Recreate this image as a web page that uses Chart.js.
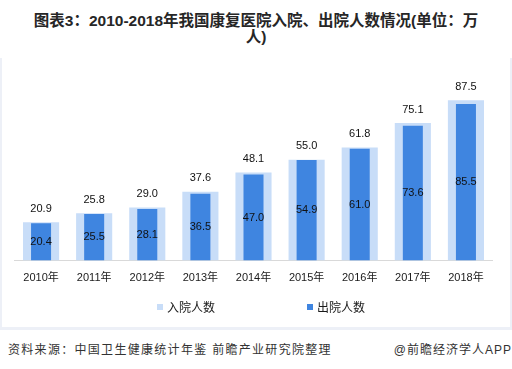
<!DOCTYPE html>
<html>
<head>
<meta charset="utf-8">
<script src="https://cdn.jsdelivr.net/npm/chart.js@4/dist/chart.umd.min.js"></script>
<style>
  body { margin: 0; width: 512px; height: 369px; background: #fff; position: relative; overflow: hidden;
         font-family: "Liberation Sans", "Noto Sans CJK SC", sans-serif; }
  #title { position: absolute; left: 0; top: 13px; width: 512px; text-align: center; font-weight: bold;
           font-size: 15.5px; line-height: 15.5px; color: #262626; }
  #frame { position: absolute; left: 0; top: 58px; width: 512px; height: 272px; box-sizing: border-box;
           border-left: 2px solid #edf0f7; border-right: 2px solid #edf0f7; border-bottom: 3px solid #edf0f7; }
  #wrap { position: absolute; left: 0; top: 58px; width: 512px; height: 269px; }
  #legend { position: absolute; left: 157px; top: 298px; display: flex; gap: 92px; font-size: 12px; color: #1a1a1a; }
  .item { display: flex; align-items: center; }
  .box { width: 6px; height: 6px; margin-right: 4px; }
  .foot { position: absolute; top: 340px; font-size: 12px; letter-spacing: 1.3px; color: #333; }
</style>
</head>
<body>
<div id="title">图表3：2010-2018年我国康复医院入院、出院人数情况(单位：万<br>人)</div>
<div id="frame"></div>
<div id="wrap"><canvas id="chart" width="512" height="269"></canvas></div>
<div id="legend"></div>
<div class="foot" style="left:8px;">资料来源：中国卫生健康统计年鉴 前瞻产业研究院整理</div>
<div class="foot" style="right:0;letter-spacing:1px;">@前瞻经济学人APP</div>
<script>
const years = ['2010年', '2011年', '2012年', '2013年', '2014年', '2015年', '2016年', '2017年', '2018年'];
const admitted = [20.9, 25.8, 29.0, 37.6, 48.1, 55.0, 61.8, 75.1, 87.5];
const discharged = [20.4, 25.5, 28.1, 36.5, 47.0, 54.9, 61.0, 73.6, 85.5];
const seriesNames = ['入院人数', '出院人数'];
const lightBlue = '#c8ddf8';
const darkBlue = '#3f85e0';

// draws the value labels: admitted above bar, discharged in middle of bar
const valueLabels = {
  id: 'valueLabels',
  afterDatasetsDraw(chart) {
    const ctx = chart.ctx;
    ctx.save();
    ctx.font = '11px "Liberation Sans", sans-serif';
    ctx.fillStyle = '#111';
    ctx.textAlign = 'center';
    ctx.textBaseline = 'middle';
    chart.data.datasets.forEach((ds, i) => {
      const meta = chart.getDatasetMeta(i);
      meta.data.forEach((bar, j) => {
        const txt = ds.data[j].toFixed(1);
        if (ds.labelPos === 'top') {
          ctx.fillText(txt, bar.x, bar.y - 13.5);
        } else {
          ctx.fillText(txt, bar.x, (bar.y + bar.base) / 2);
        }
      });
    });
    ctx.restore();
  }
};

const ctx = document.getElementById('chart').getContext('2d');
const chart = new Chart(ctx, {
  type: 'bar',
  data: {
    labels: years,
    datasets: [
      {
        label: seriesNames[1],
        data: discharged,
        backgroundColor: darkBlue,
        barPercentage: 0.377,
        categoryPercentage: 1,
        grouped: false,
        labelPos: 'middle'
      },
      {
        label: seriesNames[0],
        data: admitted,
        backgroundColor: lightBlue,
        barPercentage: 0.68,
        categoryPercentage: 1,
        grouped: false,
        labelPos: 'top'
      }
    ]
  },
  options: {
    responsive: false,
    animation: false,
    devicePixelRatio: 1,
    layout: { padding: { left: 14.5, right: 19.5, top: 19.4, bottom: 31.2 } },
    plugins: {
      legend: { display: false },
      tooltip: { enabled: false }
    },
    scales: {
      x: {
        grid: { display: false, drawTicks: false },
        border: { display: true, color: '#d9d9d9', width: 1 },
        ticks: { color: '#1a1a1a', padding: 11, font: { size: 11, family: '"Liberation Sans", "Noto Sans CJK SC", sans-serif' } }
      },
      y: { display: false, min: 0, max: 100 }
    }
  },
  plugins: [valueLabels]
});

// html legend, admitted first like the source
const legend = document.getElementById('legend');
[[seriesNames[0], lightBlue], [seriesNames[1], darkBlue]].forEach(([name, color]) => {
  legend.innerHTML += `<div class="item"><span class="box" style="background:${color}"></span>${name}</div>`;
});
</script>
</body>
</html>
